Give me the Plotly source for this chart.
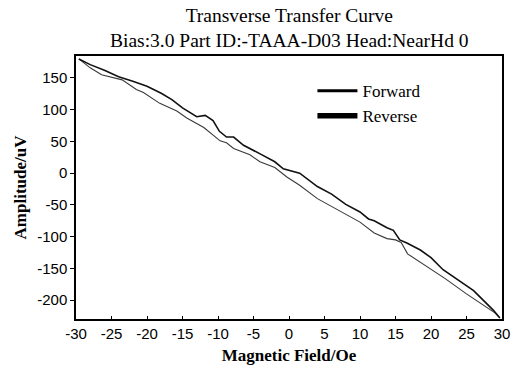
import plotly.graph_objects as go

# Reverse sweep (upper curve, thicker)
rev_x = [-29.6, -28, -26, -24, -22, -20, -18, -16.5, -15, -13, -11.8, -10.7, -9.8, -8.8, -7.8,
         -6.4, -4, -2, -0.8, 1.5, 4, 6, 8, 10, 11.2, 12, 13.8, 14.7, 15.6, 16.6, 18.5, 20,
         21.7, 24, 26, 28.8, 29.7]
rev_y = [180, 171, 162, 152, 145, 137, 126, 116, 103, 89, 91, 83, 66, 57, 57,
         44, 30, 18, 7, 0, -21, -33, -49, -61, -72, -75, -86, -90, -105, -110, -121, -133,
         -152, -169, -185, -216, -228]

# Forward sweep (lower curve, thinner)
fwd_x = [-29.6, -28, -26.4, -24.7, -23.5, -21.5, -20.5, -18.2, -15.8, -14.4, -12, -9.7, -8.8,
         -7.8, -5.5, -4.1, -2, -0.3, 1.5, 4, 7, 10, 12, 13.8, 15, 15.8, 16.7, 18.5, 20.2,
         22, 25, 27, 29, 29.7]
fwd_y = [180, 166, 155, 151, 147, 132, 127, 110, 98, 87, 72, 51, 48,
         39, 29, 18, 9, -6, -19, -40, -58, -77, -94, -103, -105, -109, -127, -140, -152,
         -166, -190, -205, -220, -228]

x_ticks = list(range(-30, 31, 5))
x_ticktext = [str(v) for v in x_ticks]
y_ticks = [150, 100, 50, 0, -50, -100, -150, -200]
y_ticktext = [str(v) for v in y_ticks]

serif = "Liberation Serif, Times New Roman, serif"
sans = "Liberation Sans, Arial, sans-serif"

fig = go.Figure()
fig.add_trace(go.Scatter(x=fwd_x, y=fwd_y, mode="lines", showlegend=False,
                         line=dict(color="#3a3a3a", width=1.1)))
fig.add_trace(go.Scatter(x=rev_x, y=rev_y, mode="lines", showlegend=False,
                         line=dict(color="#111111", width=1.6)))
# legend entries
fig.add_trace(go.Scatter(x=[None], y=[None], mode="lines", name="Forward",
                         line=dict(color="black", width=3)))
fig.add_trace(go.Scatter(x=[None], y=[None], mode="lines", name="Reverse",
                         line=dict(color="black", width=5.5)))

fig.add_annotation(text="Transverse Transfer Curve<br>Bias:3.0 Part ID:-TAAA-D03 Head:NearHd 0",
                   xref="paper", yref="paper", x=0.5, y=1, xanchor="center",
                   yanchor="bottom", yshift=3, showarrow=False, align="center",
                   font=dict(family=serif, size=19.5, color="black"))

fig.update_layout(
    width=522, height=371,
    margin=dict(l=76, r=20, t=56, b=52, autoexpand=False),
    paper_bgcolor="white", plot_bgcolor="white",
    legend=dict(x=0.555, y=0.935, xanchor="left", yanchor="top", itemwidth=40,
                font=dict(family=serif, size=17, color="black"),
                bgcolor="rgba(0,0,0,0)", tracegroupgap=0),
    xaxis=dict(range=[-30, 30], tickvals=x_ticks, ticktext=x_ticktext,
               ticks="inside", ticklen=3, automargin=False,
               tickcolor="black", showline=True, linecolor="black", linewidth=1.5,
               mirror=True, showgrid=False, zeroline=False,
               tickfont=dict(family=sans, size=15, color="black"),
               title=dict(text="<b>Magnetic Field/Oe</b>", standoff=8,
                          font=dict(family=serif, size=17, color="black"))),
    yaxis=dict(range=[-229.6, 184.6], tickvals=y_ticks, ticktext=y_ticktext,
               ticks="outside", ticklen=4, automargin=False,
               tickcolor="black", showline=True, linecolor="black", linewidth=1.5,
               mirror=True, showgrid=False, zeroline=False,
               tickfont=dict(family=sans, size=15, color="black"),
               title=dict(text="<b>Amplitude/uV</b>", standoff=6,
                          font=dict(family=serif, size=17, color="black"))),
)

fig.write_html("out.html", config={"displayModeBar": False},
               post_script="document.body.style.margin='0';document.body.style.overflow='hidden';")
